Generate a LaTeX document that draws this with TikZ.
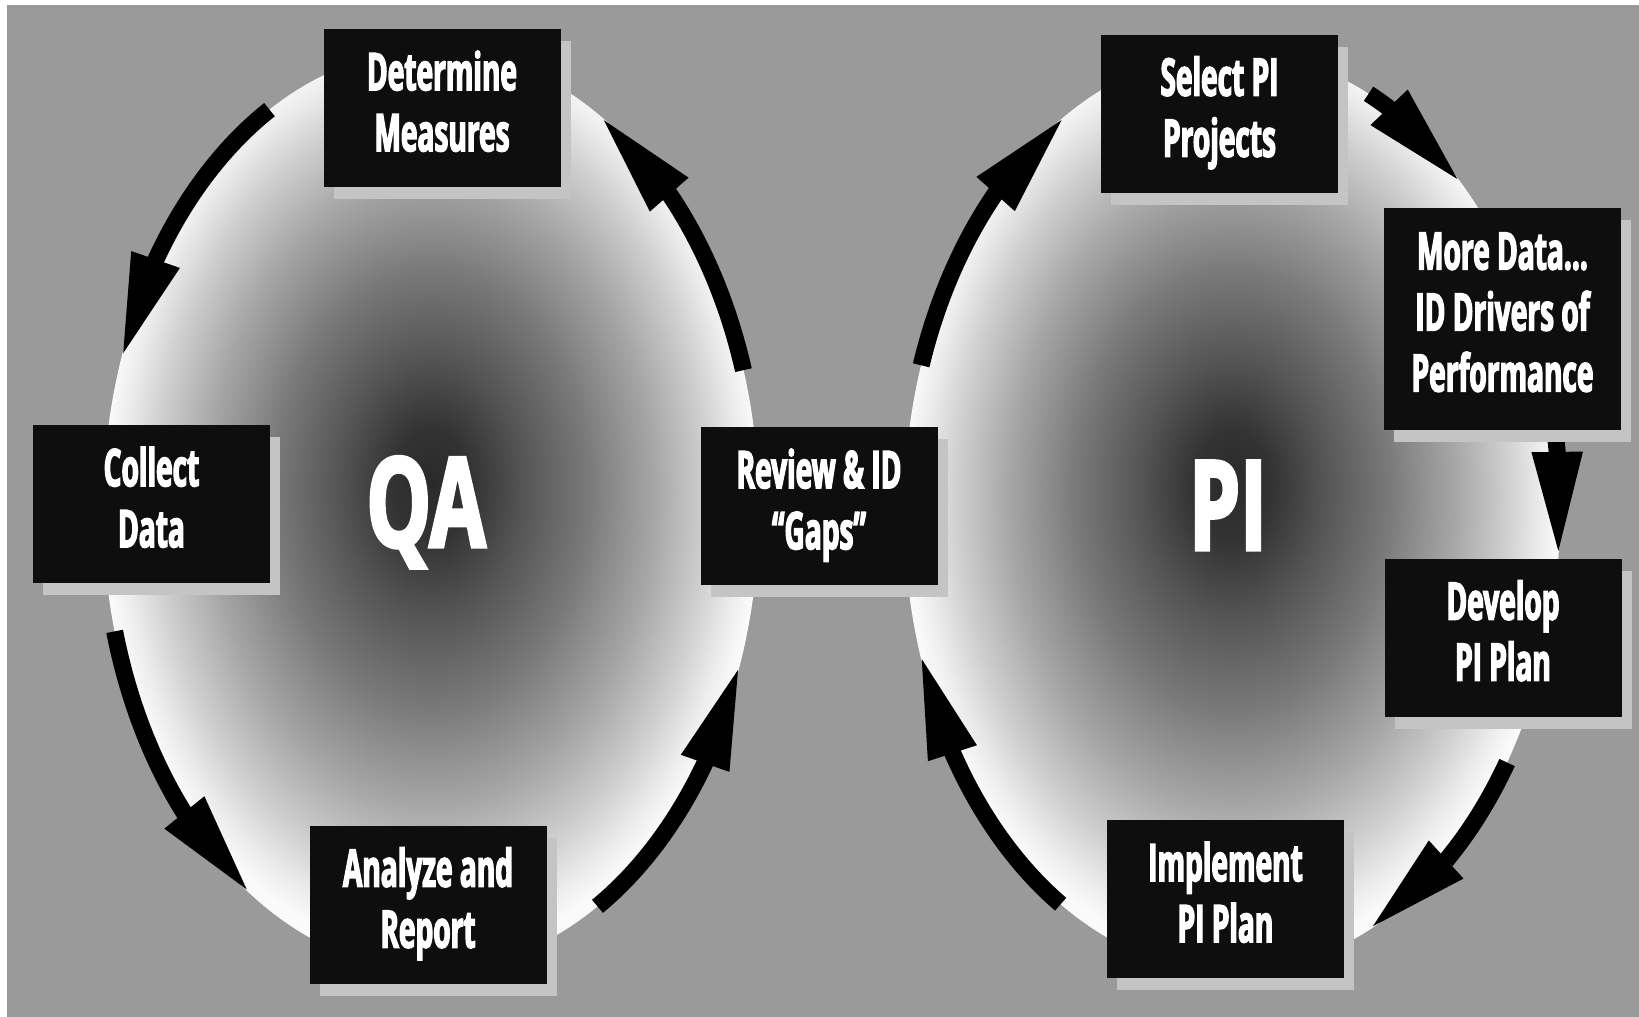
\documentclass[tikz,border=0pt]{standalone}
\usepackage{fontspec}
\newfontfamily\boxfont{Open Sans}[FakeStretch=0.54, FakeBold=2.5]
\newfontfamily\bigfont{Open Sans}[FakeStretch=0.65, FakeBold=2.5]
\usetikzlibrary{arrows.meta,bending,shadows}
\definecolor{bggray}{HTML}{9A9A9A}
\definecolor{boxblack}{HTML}{0E0E0E}
\definecolor{shadowgray}{HTML}{C4C4C4}
\definecolor{egga}{HTML}{2A2A2A}
\definecolor{eggb}{HTML}{333333}
\definecolor{eggc}{HTML}{555555}
\definecolor{eggd}{HTML}{7A7A7A}
\definecolor{egge}{HTML}{A6A6A6}
\definecolor{eggf}{HTML}{CFCFCF}
\definecolor{eggg}{HTML}{ECECEC}
\definecolor{eggh}{HTML}{FAFAFA}
\pgfdeclareradialshading{eggshade}{\pgfpoint{0bp}{1.5bp}}{%
  color(0bp)=(egga); color(3bp)=(eggb); color(7bp)=(eggc);
  color(12bp)=(eggd); color(17bp)=(egge); color(21bp)=(eggf);
  color(23.5bp)=(eggg); color(25bp)=(eggh); color(50bp)=(eggh)}
\begin{document}
\begin{tikzpicture}[x=1pt,y=-1pt,
  stepbox/.style={fill=boxblack, text=white, minimum width=237pt, minimum height=158pt,
     inner sep=0pt, align=center, text depth=14pt,
     font=\boxfont\bfseries\fontsize{52}{61}\selectfont,
     drop shadow={shadow xshift=10pt, shadow yshift=-12pt, fill=shadowgray, opacity=1}},
  arr/.style={line width=17pt, -{Triangle[length=105pt 0 0, width=46pt 0 0]}},
  big/.style={text=white, font=\bigfont\bfseries\fontsize{125}{125}\selectfont, inner sep=0pt}
]
\useasboundingbox (0,0) rectangle (1639,1017);
\fill[white] (0,0) rectangle (1639,1017);
\fill[bggray] (7,5) rectangle (1639,1017);
\coordinate (qa) at (431,510);
\coordinate (pi) at (1232,512);
\shade[shading=eggshade] (qa) ellipse [x radius=328, y radius=460];
\shade[shading=eggshade] (pi) ellipse [x radius=328, y radius=460];

% QA cycle arrows
\draw[arr] (qa) ++(240.5:328 and 460) arc[start angle=240.5, end angle=199.2, x radius=328, y radius=460];
\draw[arr] (qa) ++(164.7:328 and 460) arc[start angle=164.7, end angle=123.4, x radius=328, y radius=460];
\draw[arr] (qa) ++(59.5:328 and 460) arc[start angle=59.5, end angle=19.6, x radius=328, y radius=460];
\draw[arr] (qa) ++(342.3:328 and 460) arc[start angle=342.3, end angle=301, x radius=328, y radius=460];
% PI cycle arrows
\draw[arr] (pi) ++(198.6:328 and 460) arc[start angle=198.6, end angle=239.5, x radius=328, y radius=460];
\draw[arr] (pi) ++(294.6:328 and 460) arc[start angle=294.6, end angle=314.4, x radius=328, y radius=460];
\draw[arr] (pi) ++(350.9:328 and 460) arc[start angle=350.9, end angle=365.6, x radius=328, y radius=460];
\draw[arr] (pi) ++(33:328 and 460) arc[start angle=33, end angle=65.4, x radius=328, y radius=460];
\draw[arr] (pi) ++(121.5:328 and 460) arc[start angle=121.5, end angle=162.1, x radius=328, y radius=460];

\node[big, anchor=base] (qal) at (426,547) {QA};
\node[big, anchor=base] (pil) at (1228,550) {PI};

\node[stepbox] (det) at (442,108) {Determine\\Measures};
\node[stepbox] (col) at (151.5,504) {Collect\\Data};
\node[stepbox] (rev) at (819,506) {Review \& ID\\“Gaps”};
\node[stepbox] (ana) at (428,904.5) {Analyze and\\Report};
\node[stepbox] (sel) at (1219.5,113.5) {Select PI\\Projects};
\node[stepbox, minimum height=222pt] (more) at (1502.5,319) {More Data…\\ID Drivers of\\Performance};
\node[stepbox] (dev) at (1503,637.5) {Develop\\PI Plan};
\node[stepbox] (imp) at (1225.5,899) {Implement\\PI Plan};
\end{tikzpicture}
\end{document}
